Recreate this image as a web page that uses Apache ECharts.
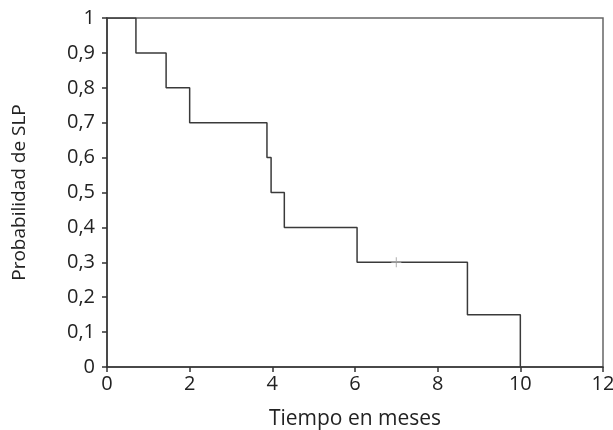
<!DOCTYPE html>
<html>
<head>
<meta charset="utf-8">
<script src="https://cdn.jsdelivr.net/npm/echarts@6/dist/echarts.min.js"></script>
<style>
  html, body { margin: 0; padding: 0; background: #fff; }
  #chart { width: 613px; height: 430px; }
</style>
</head>
<body>
<div id="chart"></div>
<script>
// Curva de supervivencia (Kaplan-Meier), SLP
const times = [0, 0.7, 1.43, 2.0, 3.87, 3.97, 4.29, 6.05, 8.72, 10.0]
const surv = [1, 0.9, 0.8, 0.7, 0.6, 0.5, 0.4, 0.3, 0.15, 0]
const censorTimes = [7.0]
const censorSurv = [0.3]

const xName = 'Tiempo en meses'
const yName = 'Probabilidad de SLP'

const chart = echarts.init(document.getElementById('chart'))

const fmt = v => String(+Number(v).toFixed(1)).replace('.', ',')
const font = '"Open Sans", "Noto Sans", sans-serif'

chart.setOption({
    animation: false,
    backgroundColor: '#fff',
    grid: {
        left: 107, right: 10, top: 18, bottom: 63,
        outerBoundsMode: 'none',
        show: true, borderColor: '#666', borderWidth: 1.5
    },
    xAxis: {
        type: 'value', min: 0, max: 12, interval: 2,
        name: xName, nameLocation: 'middle', nameGap: 42,
        nameTextStyle: { fontFamily: font, fontSize: 21, color: '#222' },
        axisLine: { show: true, lineStyle: { color: '#333', width: 1.5 } },
        axisTick: { show: true, length: 5, lineStyle: { color: '#333', width: 1.5 } },
        axisLabel: { fontFamily: font, fontSize: 20, color: '#222', margin: 7, formatter: fmt },
        splitLine: { show: false }
    },
    yAxis: {
        type: 'value', min: 0, max: 1, interval: 0.1,
        name: yName, nameLocation: 'middle', nameGap: 78,
        nameTextStyle: { fontFamily: font, fontSize: 19, color: '#222' },
        axisLine: { show: true, lineStyle: { color: '#333', width: 1.5 } },
        axisTick: { show: true, length: 5, lineStyle: { color: '#333', width: 1.5 } },
        axisLabel: { fontFamily: font, fontSize: 20, color: '#222', margin: 12, formatter: fmt },
        splitLine: { show: false }
    },
    series: [
        {
            type: 'line',
            step: 'end',
            data: times.map((t, i) => [t, surv[i]]),
            showSymbol: false,
            lineStyle: { color: '#3a3a3a', width: 1.5 },
            z: 3
        },
        {
            type: 'scatter',
            data: censorTimes.map((t, i) => [t, censorSurv[i]]),
            symbol: 'path://M0,5L10,5M5,0L5,10',
            symbolSize: 10,
            itemStyle: { color: 'none', borderColor: '#aaa', borderWidth: 1.2 },
            z: 4
        }
    ]
})
</script>
</body>
</html>
